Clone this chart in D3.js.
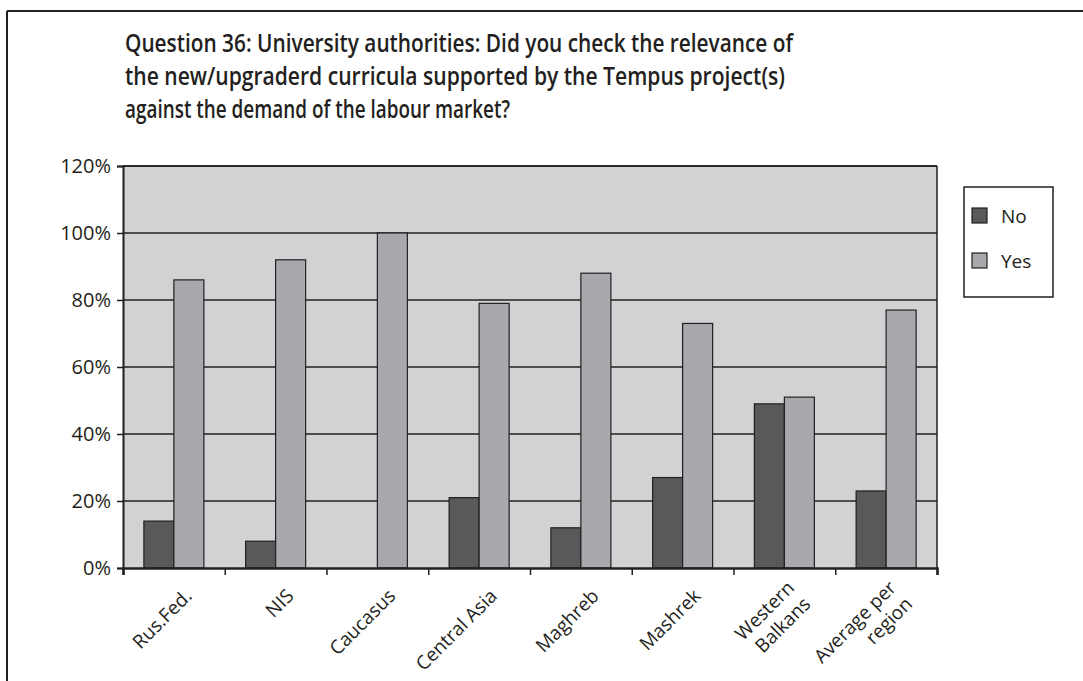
<!DOCTYPE html>
<html>
<head>
<meta charset="utf-8">
<script src="https://cdn.jsdelivr.net/npm/d3@7"></script>
<style>
  body { margin: 0; background: #fff; }
  svg { display: block; }
</style>
</head>
<body>
<script>
// data
var categories = [["Rus.Fed."], ["NIS"], ["Caucasus"], ["Central Asia"], ["Maghreb"], ["Mashrek"], ["Western", "Balkans"], ["Average per", "region"]];
var seriesNames = ["No", "Yes"];
var noValues  = [14, 8, 0, 21, 12, 27, 49, 23];
var yesValues = [86, 92, 100, 79, 88, 73, 51, 77];
var yTicks = [0, 20, 40, 60, 80, 100, 120];
var titleLines = [
    "Question 36: University authorities: Did you check the relevance of",
    "the new/upgraderd curricula supported by the Tempus project(s)",
    "against the demand of the labour market?"
];
var titleWidths = [668, 660, 385];

var colors = ["#58595b", "#a7a9ac"];

var W = 1083, H = 681;
var margin = {top: 166, right: 146, bottom: 113, left: 123},
    w = W - margin.left - margin.right,
    h = H - margin.top - margin.bottom;

var svg = d3.select("body").append("svg")
    .attr("width", W)
    .attr("height", H);

// outer frame (top and left edges only are visible)
svg.append("line").attr("x1", 7).attr("x2", W).attr("y1", 11).attr("y2", 11)
    .attr("stroke", "#231f20").attr("stroke-width", 2);
svg.append("line").attr("x1", 7).attr("x2", 7).attr("y1", 11).attr("y2", H)
    .attr("stroke", "#231f20").attr("stroke-width", 2);

// title
svg.selectAll("text.title")
    .data(titleLines)
    .enter()
    .append("text")
    .attr("class", "title")
    .attr("x", 125)
    .attr("y", function(d, i) { return 52 + i * 33; })
    .attr("textLength", function(d, i) { return titleWidths[i]; })
    .attr("lengthAdjust", "spacingAndGlyphs")
    .attr("font-family", "'Open Sans', sans-serif")
    .attr("font-weight", 600)
    .attr("font-size", "26px")
    .attr("fill", "#231f20")
    .text(function(d) { return d; });

var g = svg.append("g")
    .attr("transform", "translate(" + margin.left + "," + margin.top + ")");

// scales
var x0 = d3.scaleBand().domain(d3.range(categories.length)).range([0, w]);
var barW = 30;
var x1 = d3.scaleBand().domain(seriesNames).range([0, barW * 2]);
var yscale = d3.scaleLinear().domain([0, 120]).range([h, 0]);

// plot background
g.append("rect")
    .attr("width", w).attr("height", h)
    .attr("fill", "#d1d2d4");

// gridlines
g.selectAll("line.grid")
    .data(yTicks.slice(1))
    .enter()
    .append("line")
    .attr("class", "grid")
    .attr("x1", 0).attr("x2", w)
    .attr("y1", function(d) { return yscale(d); })
    .attr("y2", function(d) { return yscale(d); })
    .attr("stroke", "#231f20").attr("stroke-width", 1.5);

// bars
var series = [noValues, yesValues];
var groups = g.selectAll("g.cat")
    .data(categories)
    .enter()
    .append("g")
    .attr("class", "cat")
    .attr("transform", function(d, i) {
        return "translate(" + (x0(i) + (x0.bandwidth() - barW * 2) / 2) + ",0)";
    });

groups.selectAll("rect")
    .data(function(d, i) {
        return seriesNames.map(function(s, k) { return {name: s, value: series[k][i], k: k}; });
    })
    .enter()
    .filter(function(d) { return d.value > 0; })
    .append("rect")
    .attr("x", function(d) { return x1(d.name); })
    .attr("y", function(d) { return yscale(d.value); })
    .attr("width", x1.bandwidth())
    .attr("height", function(d) { return h - yscale(d.value); })
    .attr("fill", function(d) { return colors[d.k]; })
    .attr("stroke", "#231f20")
    .attr("stroke-width", 1.2);

// plot border: right and top
g.append("line").attr("x1", w).attr("x2", w).attr("y1", 0).attr("y2", h)
    .attr("stroke", "#231f20").attr("stroke-width", 1.5);
g.append("line").attr("x1", 0).attr("x2", w).attr("y1", 0).attr("y2", 0)
    .attr("stroke", "#231f20").attr("stroke-width", 1.5);

// y axis
var yAxis = g.append("g")
    .call(d3.axisLeft(yscale).tickValues(yTicks).tickSize(6).tickPadding(6)
        .tickFormat(function(d) { return d + "%"; }));
yAxis.select(".domain").attr("stroke", "#231f20").attr("stroke-width", 2);
yAxis.selectAll(".tick line").attr("stroke", "#231f20").attr("stroke-width", 1.5);
yAxis.selectAll("text")
    .attr("font-family", "'Open Sans', sans-serif")
    .attr("font-size", "20px")
    .attr("fill", "#231f20");

// x axis
var tickPos = d3.range(categories.length + 1).map(function(i) { return i * x0.step(); });
var xAxisScale = d3.scaleLinear().domain([0, w]).range([0, w]);
var xAxis = g.append("g")
    .attr("transform", "translate(0," + h + ")")
    .call(d3.axisBottom(xAxisScale).tickValues(tickPos).tickSize(7).tickFormat(""));
xAxis.select(".domain").attr("stroke", "#231f20").attr("stroke-width", 2.5);
xAxis.selectAll(".tick line").attr("stroke", "#231f20").attr("stroke-width", 1.5);

// category labels, rotated
var labels = g.selectAll("text.xlab")
    .data(categories)
    .enter()
    .append("text")
    .attr("class", "xlab")
    .attr("transform", function(d, i) {
        return "translate(" + (x0(i) + x0.bandwidth() / 2 + 10) + "," + (h + 20) + ") rotate(-45)";
    })
    .attr("text-anchor", "end")
    .attr("font-family", "'Open Sans', sans-serif")
    .attr("font-size", "19px")
    .attr("fill", "#231f20");

labels.each(function(d) {
    var t = d3.select(this);
    var n = d.length;
    d.forEach(function(line, j) {
        t.append("tspan")
            .attr("x", 0)
            .attr("y", (j - (n - 1) / 2) * 23 + 13)
            .text(line);
    });
});

// legend
var legend = svg.append("g").attr("transform", "translate(964,187)");
legend.append("rect")
    .attr("width", 89).attr("height", 110)
    .attr("fill", "#fff")
    .attr("stroke", "#231f20").attr("stroke-width", 1.5);

var items = legend.selectAll("g.item")
    .data(seriesNames)
    .enter()
    .append("g")
    .attr("class", "item")
    .attr("transform", function(d, i) { return "translate(8," + (21 + i * 45) + ")"; });

items.append("rect")
    .attr("width", 15).attr("height", 15)
    .attr("fill", function(d, i) { return colors[i]; })
    .attr("stroke", "#231f20").attr("stroke-width", 1.2);

items.append("text")
    .attr("x", 29)
    .attr("y", 15)
    .attr("font-family", "'Open Sans', sans-serif")
    .attr("font-size", "19px")
    .attr("fill", "#231f20")
    .text(function(d) { return d; });
</script>
</body>
</html>
